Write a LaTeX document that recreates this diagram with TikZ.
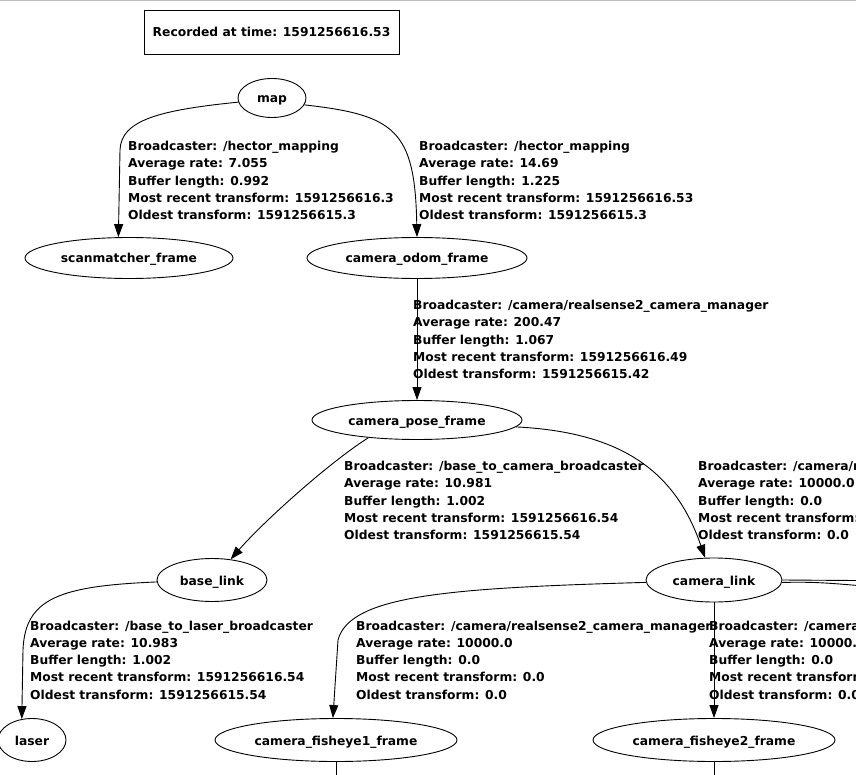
\documentclass[tikz,border=0pt]{standalone}
\usepackage{fontspec}
\setmainfont{DejaVu Sans}
\usetikzlibrary{arrows.meta,shapes.geometric}
\definecolor{viewgray}{RGB}{190,190,190}
\newcommand{\tfinfo}[5]{Broadcaster: #1\\Average rate: #2\\Buffer length: #3\\Most recent transform: #4\\Oldest transform: #5}
\tikzset{
  tffont/.style={font=\fontsize{12.3}{17.3}\selectfont\bfseries},
  tfframe/.style={ellipse,draw,line width=0.9pt,tffont,inner sep=0pt,text height=10pt,text depth=0pt},
  % base anchor sits on the last of the five lines
  tflabel/.style={tffont,align=left,anchor=base west,inner sep=0pt},
  tfedge/.style={line width=0.9pt,-{Triangle[length=13pt,width=9pt]}},
}

\begin{document}
\begin{tikzpicture}[x=1pt,y=-1pt]
  \useasboundingbox (0,0) rectangle (856,775);
  \fill[white] (0,0) rectangle (856,775);
  \clip (0,0) rectangle (856,775);
  \draw[viewgray,line width=1.5pt] (0,0.5) -- (856,0.5);

  \node[draw,line width=0.9pt,tffont,minimum width=255pt,minimum height=44pt,inner sep=0pt,text height=10pt,text depth=0pt] (stamp) at (271.5,32) {Recorded at time: 1591256616.53};

  % frames
  \node[tfframe,minimum width=68pt,minimum height=39pt] (map) at (272,98) {map};
  \node[tfframe,minimum width=208pt,minimum height=41pt] (scan) at (129,258) {scanmatcher\_frame};
  \node[tfframe,minimum width=220pt,minimum height=41pt] (odom) at (417,258) {camera\_odom\_frame};
  \node[tfframe,minimum width=210pt,minimum height=39pt] (pose) at (417,420) {camera\_pose\_frame};
  \node[tfframe,minimum width=110pt,minimum height=43pt] (base) at (212,580) {base\_link};
  \node[tfframe,minimum width=136pt,minimum height=44pt] (camlink) at (714,580) {camera\_link};
  \node[tfframe,minimum width=68pt,minimum height=43pt] (laser) at (32,740) {laser};
  \node[tfframe,minimum width=242pt,minimum height=43pt] (fish1) at (336,740) {camera\_fisheye1\_frame};
  \node[tfframe,minimum width=242pt,minimum height=43pt] (fish2) at (714,740) {camera\_fisheye2\_frame};

  % ends of edges leaving the view
  \coordinate (offright) at (930,581);
  \coordinate (offright2) at (930,592);
  \coordinate (offfish1) at (336,830);
  \coordinate (offfish2) at (714,830);

  % transforms
  \draw[tfedge] (map.187) .. controls (160,110) and (121,120) .. (120,150) -- (scan.117);
  \draw[tfedge] (map.-12) .. controls (395,115) and (415,130) .. (odom.north);
  \draw[tfedge] (odom) -- (pose);
  \draw[tfedge] (pose.200) .. controls (330,462) and (265,520) .. (base.48);
  \draw[tfedge] (pose.-4) .. controls (620,432) and (675,470) .. (camlink.112);
  \draw[tfedge] (base.182) .. controls (60,586) and (25,598) .. (23,650) -- (laser.116);
  \draw[tfedge] (camlink.182) .. controls (450,588) and (350,595) .. (338,640) -- (fish1.98);
  \draw[tfedge] (camlink) -- (fish2);
  \draw[tfedge] (camlink.0) -- (offright);
  \draw[tfedge] (camlink.-2) .. controls (820,582) .. (offright2);
  \draw[tfedge] (fish1) -- (offfish1);
  \draw[tfedge] (fish2) -- (offfish2);

  % broadcaster info
  \node[tflabel] (infoscan) at (128,219.7) {\tfinfo{/hector\_mapping}{7.055}{0.992}{1591256616.3}{1591256615.3}};
  \node[tflabel] (infoodom) at (419,219.7) {\tfinfo{/hector\_mapping}{14.69}{1.225}{1591256616.53}{1591256615.3}};
  \node[tflabel] (infopose) at (413,378.7) {\tfinfo{/camera/realsense2\_camera\_manager}{200.47}{1.067}{1591256616.49}{1591256615.42}};
  \node[tflabel] (infobase) at (344,539.7) {\tfinfo{/base\_to\_camera\_broadcaster}{10.981}{1.002}{1591256616.54}{1591256615.54}};
  \node[tflabel] (infocamlink) at (698,539.7) {\tfinfo{/camera/realsense2\_camera\_manager}{10000.0}{0.0}{0.0}{0.0}};
  \node[tflabel] (infolaser) at (30,699.2) {\tfinfo{/base\_to\_laser\_broadcaster}{10.983}{1.002}{1591256616.54}{1591256615.54}};
  \node[tflabel] (infofish1) at (356,699.2) {\tfinfo{/camera/realsense2\_camera\_manager}{10000.0}{0.0}{0.0}{0.0}};
  \node[tflabel] (infofish2) at (709,699.2) {\tfinfo{/camera/realsense2\_camera\_manager}{10000.0}{0.0}{0.0}{0.0}};
\end{tikzpicture}
\end{document}
